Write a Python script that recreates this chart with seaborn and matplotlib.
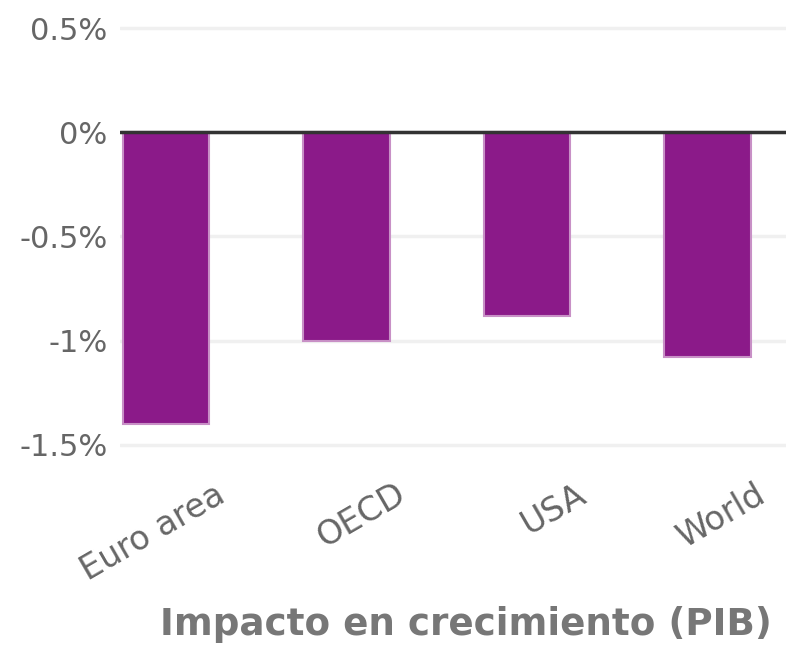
import matplotlib
matplotlib.use("Agg")
import matplotlib.pyplot as plt
import matplotlib.transforms as mtransforms
import seaborn as sns
import pandas as pd

# Datos
regiones = ["Euro area", "OECD", "USA", "World"]
impacto = [-1.40, -1.00, -0.88, -1.08]
y_ticks = [0.5, 0, -0.5, -1, -1.5]
y_labels = ["0.5%", "0%", "-0.5%", "-1%", "-1.5%"]

df = pd.DataFrame({"region": regiones, "impacto": impacto})

sns.set_style("white")
plt.rcParams["font.family"] = ["DejaVu Sans"]

fig = plt.figure(figsize=(7.86, 6.46), dpi=100)
ax = fig.add_axes([120 / 786, (646 - 449) / 646, 1 - 120 / 786, (449 - 24) / 646])

sns.barplot(
    data=df, x="region", y="impacto", color="#8b1a89", saturation=1,
    width=0.48, edgecolor="#c890c6", linewidth=1.5, ax=ax, zorder=3,
)

ax.set_xlim(-0.255, 3.435)
ax.set_ylim(-1.52, 0.52)
ax.set_yticks(y_ticks)
ax.set_yticklabels(y_labels)
ax.yaxis.grid(True, color="#f0f0f0", linewidth=2.5, zorder=0)
ax.axhline(0, color="#333333", linewidth=2.5, zorder=4)

for s in ax.spines.values():
    s.set_visible(False)

ax.tick_params(axis="y", length=0, pad=9, labelsize=22, labelcolor="#666666")
ax.tick_params(axis="x", length=0, pad=31, labelsize=24, labelcolor="#666666")

offset = mtransforms.ScaledTranslation(0.56, 0, fig.dpi_scale_trans)
for lbl in ax.get_xticklabels():
    lbl.set_rotation(30)
    lbl.set_ha("right")
    lbl.set_va("center")
    lbl.set_rotation_mode("anchor")
    lbl.set_transform(lbl.get_transform() + offset)

ax.set_xlabel("")
ax.set_ylabel("")

fig.text(160 / 786, (646 - 635) / 646, "Impacto en crecimiento (PIB)",
         fontsize=26.8, fontweight="bold", color="#777777", ha="left", va="baseline")

fig.savefig("out.png", dpi=100)
